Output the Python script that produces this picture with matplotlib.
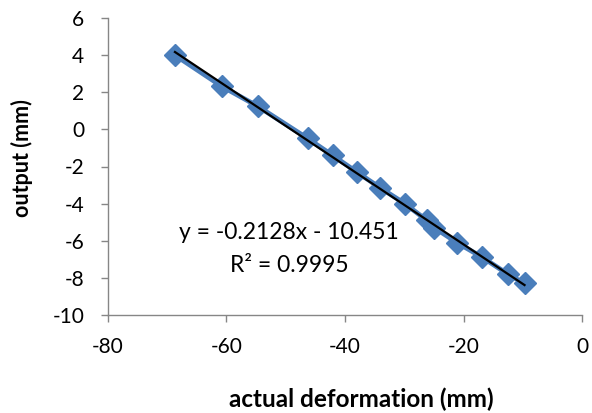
import matplotlib
matplotlib.use("Agg")
import matplotlib.pyplot as plt
import numpy as np

actual = [-68.7, -60.8, -54.7, -46.3, -42.1, -38.0, -34.1, -29.9, -26.2, -24.9, -21.1, -16.8, -12.5, -9.7]
output = [4.0, 2.32, 1.24, -0.49, -1.4, -2.3, -3.14, -4.0, -4.9, -5.3, -6.1, -6.9, -7.8, -8.3]
slope = -0.2128
intercept = -10.451
r2 = 0.9995
xticks = [-80, -60, -40, -20, 0]
yticks = [-10, -8, -6, -4, -2, 0, 2, 4, 6]

plt.rcParams['font.family'] = ['Lato', 'DejaVu Sans']
plt.rcParams['axes.unicode_minus'] = False

fig = plt.figure(figsize=(5.92, 4.13), dpi=100)
ax = fig.add_axes([108 / 592, 1 - 315 / 413, 474 / 592, 297 / 413])

blue = '#4A7EBB'
ax.plot(actual, output, color=blue, lw=3.5, marker='D', ms=11, mfc=blue, mec=blue, zorder=2)
xs = np.array([min(actual), max(actual)])
ax.plot(xs, slope * xs + intercept, color='black', lw=1.6, zorder=3)

ax.set_xlim(-80, 0)
ax.set_ylim(-10, 6)
ax.set_xticks(xticks)
ax.set_yticks(yticks)
for s in ['top', 'right']:
    ax.spines[s].set_visible(False)
for s in ['left', 'bottom']:
    ax.spines[s].set_color('#868686')
    ax.spines[s].set_linewidth(1.0)
ax.tick_params(axis='both', colors='#868686', direction='out', length=5, width=1.0,
               labelcolor='black', labelsize=15)
ax.tick_params(axis='y', pad=12)
ax.tick_params(axis='x', pad=11)

ax.set_xlabel('actual deformation (mm)', fontsize=17.5, fontweight='bold')
ax.set_ylabel('output (mm)', fontsize=15.5, fontweight='bold')
ax.xaxis.set_label_coords(0.535, -0.243)
ax.yaxis.set_label_coords(-0.158, 0.53)

ax.text(-49.5, -5.57, f'y = {slope}x - {abs(intercept)}', fontsize=16.5, ha='center', va='center')
ax.text(-49.45, -7.35, f'R² = {r2}', fontsize=16.5, ha='center', va='center')

fig.savefig('out.png', dpi=100)
